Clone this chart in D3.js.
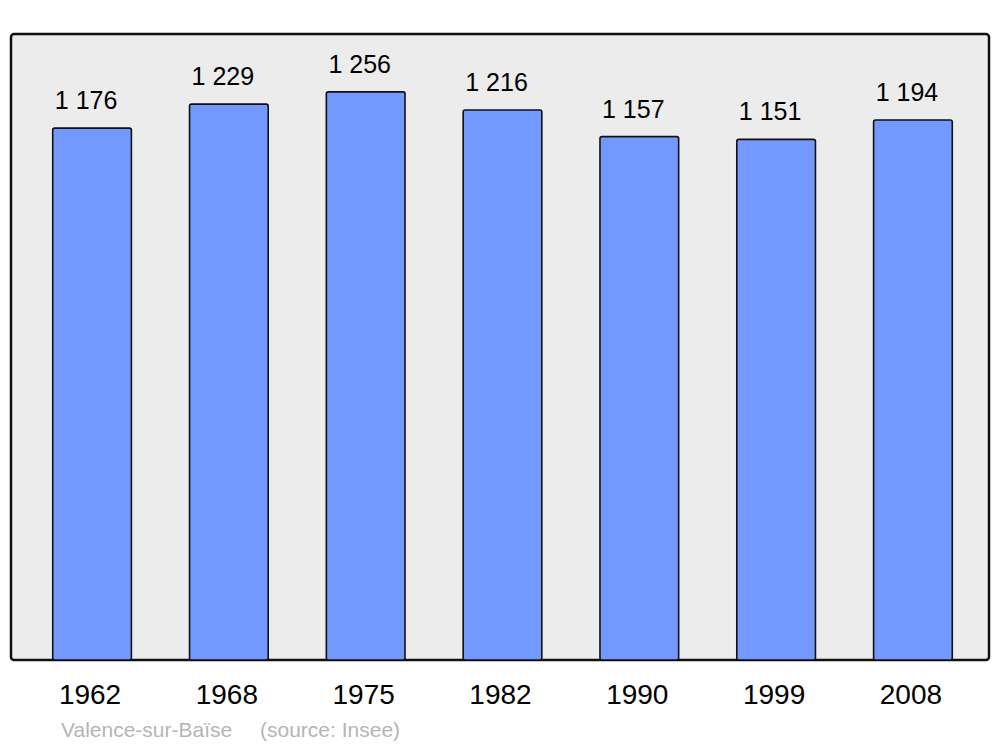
<!DOCTYPE html>
<html>
<head>
<meta charset="utf-8">
<script src="https://cdn.jsdelivr.net/npm/d3@7.9.0/dist/d3.min.js"></script>
<style>
  body { margin: 0; background: #fff; }
  svg { display: block; font-family: "Liberation Sans", Arial, sans-serif; }
</style>
</head>
<body>
<svg width="1000" height="747"></svg>
<script>
// population data
const years = ['1962', '1968', '1975', '1982', '1990', '1999', '2008'];
const population = [1176, 1229, 1256, 1216, 1157, 1151, 1194];
const commune = 'Valence-sur-Baïse';
const source = '(source: Insee)';

const svg = d3.select('svg');
const fmt = (v) => d3.format(',')(v).replace(',', ' ');

// frame
const frame = { x0: 11, x1: 989, y0: 34, y1: 660 };
svg.append('rect')
  .attr('x', frame.x0)
  .attr('y', frame.y0)
  .attr('width', frame.x1 - frame.x0)
  .attr('height', frame.y1 - frame.y0)
  .attr('rx', 3)
  .attr('fill', '#ececec')
  .attr('stroke', '#111')
  .attr('stroke-width', 2.5);

let x = d3.scaleBand()
  .domain(years)
  .range([24, 981])
  .paddingInner(0.425)
  .paddingOuter(0.21);

let y = d3.scaleLinear()
  .domain([0, 1384])
  .range([frame.y1, frame.y0]);

// bars
svg.selectAll('rect.bar')
  .data(years)
  .join('rect')
  .attr('class', 'bar')
  .attr('x', (d) => x(d))
  .attr('y', (d, i) => y(population[i]))
  .attr('width', x.bandwidth())
  .attr('height', (d, i) => y(0) - y(population[i]))
  .attr('rx', 2)
  .attr('fill', '#7399ff')
  .attr('stroke', '#111')
  .attr('stroke-width', 1.6);

// value labels
svg.selectAll('text.value')
  .data(years)
  .join('text')
  .attr('class', 'value')
  .attr('x', (d) => x(d) + x.bandwidth() / 2 - 6)
  .attr('y', (d, i) => y(population[i]) - 19)
  .attr('text-anchor', 'middle')
  .attr('font-size', 25)
  .attr('fill', '#000')
  .text((d, i) => fmt(population[i]));

// year labels
svg.selectAll('text.year')
  .data(years)
  .join('text')
  .attr('class', 'year')
  .attr('x', (d) => x(d) + x.bandwidth() / 2 - 2)
  .attr('y', 704)
  .attr('text-anchor', 'middle')
  .attr('font-size', 28)
  .attr('fill', '#000')
  .text((d) => d);

// caption
svg.append('text')
  .attr('x', 61)
  .attr('y', 737)
  .attr('font-size', 21)
  .attr('fill', '#b5b5b5')
  .text(commune);
svg.append('text')
  .attr('x', 260)
  .attr('y', 737)
  .attr('font-size', 21)
  .attr('fill', '#b5b5b5')
  .text(source);
</script>
</body>
</html>
